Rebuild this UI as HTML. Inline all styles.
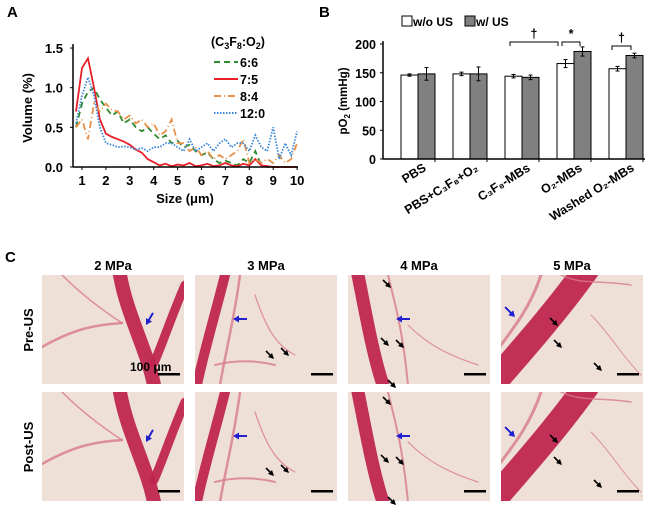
<!DOCTYPE html>
<html><head><meta charset="utf-8">
<style>
body{margin:0;background:#fff;}
#root{position:relative;width:652px;height:506px;overflow:hidden;font-family:"Liberation Sans",Arial,sans-serif;}
svg text{font-family:"Liberation Sans",Arial,sans-serif;font-weight:bold;}
</style></head>
<body><div id="root">
<svg id="main" width="652" height="506" xmlns="http://www.w3.org/2000/svg"></svg>
</div>
<script>
// ---------- Panel A data ----------
const sizeStart = 0.75, sizeStep = 0.25;
const s66  = [0.5,0.8,0.95,1.0,0.85,0.75,0.65,0.7,0.55,0.6,0.5,0.45,0.5,0.42,0.35,0.4,0.3,0.33,0.25,0.28,0.2,0.15,0.18,0.1,0.05,0.08,0.05,0.02,0.1,0.05,0.2,0.02,0.0,0.0,0.0,0.0,0.0,0.0];
const s75  = [0.7,1.25,1.37,1.0,0.6,0.42,0.38,0.35,0.32,0.28,0.22,0.18,0.1,0.06,0.02,0.04,0.01,0.03,0.02,0.05,0.01,0.02,0.04,0.01,0.02,0.05,0.02,0.01,0.04,0.02,0.1,0.02,0.01,0.0,0.0,0.0,0.0,0.0];
const s84  = [0.5,0.6,0.35,0.8,0.7,0.8,0.72,0.7,0.6,0.65,0.55,0.6,0.5,0.55,0.4,0.45,0.6,0.3,0.3,0.2,0.25,0.15,0.2,0.1,0.15,0.1,0.15,0.2,0.35,0.05,0.1,0.05,0.1,0.05,0.15,0.05,0.1,0.3];
const s120 = [0.55,0.9,1.13,0.9,0.5,0.3,0.28,0.25,0.26,0.25,0.22,0.24,0.2,0.25,0.25,0.3,0.3,0.25,0.2,0.35,0.2,0.25,0.3,0.2,0.3,0.35,0.25,0.3,0.3,0.2,0.4,0.25,0.2,0.5,0.1,0.3,0.15,0.45];
const aYTicks = [0,0.5,1.0,1.5];
const aYLabels = ["0.0","0.5","1.0","1.5"];
const aXTicks = [1,2,3,4,5,6,7,8,9,10];
// ---------- Panel B data ----------
const bCats = ["PBS","PBS+C₃F₈+O₂","C₃F₈-MBs","O₂-MBs","Washed O₂-MBs"];
const bNoUS = [146,148,144,166,157];
const bUS   = [148,148,142,187,180];
const bErrNoUS = [2,3,3,7,4];
const bErrUS   = [11,12,4,8,4];
const bYTicks = [0,50,100,150,200];

const NS="http://www.w3.org/2000/svg";
const svg=document.getElementById('main');
function mk(tag,attrs,parent){const e=document.createElementNS(NS,tag);for(const k in attrs)e.setAttribute(k,attrs[k]);(parent||svg).appendChild(e);return e;}
function txt(x,y,s,attrs,parent){const t=mk('text',Object.assign({x:x,y:y},attrs||{}),parent);t.textContent=s;return t;}

// ---- Panel A ----
const ax=v=>82+(v-1)*23.9, ay=v=>167-v*79.3;
const gA=mk('g',{});


const la=txt(7,17,'A',{'font-size':15},gA);

const series=[[s66,'#2e8b2e','6 4'],[s75,'#e8202a',''],[s84,'#e8904a','7 3 1 3'],[s120,'#3a86d8','1.5 1.5']];
series.forEach((sr,si)=>{
  let d='';sr[0].forEach((v,i)=>{d+=(i?'L':'M')+ax(sizeStart+i*sizeStep).toFixed(1)+','+ay(v).toFixed(1);});
  const p=mk('path',{d:d,fill:'none',stroke:sr[1],'stroke-width':1.8,'stroke-dasharray':sr[2]},gA);
  
  
});
mk('line',{x1:73,y1:ay(1.55),x2:73,y2:167,stroke:'#000','stroke-width':1.5},gA);
mk('line',{x1:73,y1:167,x2:298,y2:167,stroke:'#000','stroke-width':1.5},gA);
aYTicks.forEach((v,i)=>{mk('line',{x1:70,y1:ay(v),x2:73,y2:ay(v),stroke:'#000'},gA);
  const t=txt(63,ay(v)+5,aYLabels[i],{'font-size':13,'text-anchor':'end'},gA);
  });
aXTicks.forEach(v=>{mk('line',{x1:ax(v),y1:167,x2:ax(v),y2:170,stroke:'#000'},gA);
  const t=txt(ax(v),185,String(v),{'font-size':13,'text-anchor':'middle'},gA);
  });
const xt=txt(185,203,'Size (μm)',{'font-size':13,'text-anchor':'middle'},gA);

const yt=txt(0,0,'Volume (%)',{'font-size':13,'text-anchor':'middle',transform:'translate(32,108) rotate(-90)'},gA);

const lg=txt(211,46,'',{'font-size':12.5},gA);
lg.innerHTML='(C<tspan font-size="9" dy="3">3</tspan><tspan dy="-3">F</tspan><tspan font-size="9" dy="3">8</tspan><tspan dy="-3">:O</tspan><tspan font-size="9" dy="3">2</tspan><tspan dy="-3">)</tspan>';

['6:6','7:5','8:4','12:0'].forEach((n,i)=>{const y=62+i*17;
  mk('line',{x1:214,y1:y,x2:238,y2:y,stroke:series[i][1],'stroke-width':2,'stroke-dasharray':series[i][2]},gA);
  const t=txt(240,y+5,n,{'font-size':12.5},gA);
  });

// ---- Panel B ----
const by=v=>159-v*0.575;
const gB=mk('g',{});


const lb=txt(319,17,'B',{'font-size':15},gB);

mk('rect',{x:402,y:16,width:10,height:10,fill:'#fff',stroke:'#000'},gB);
const l1=txt(413,26,'w/o US',{'font-size':12},gB);

mk('rect',{x:465,y:16,width:10,height:10,fill:'#808080',stroke:'#000'},gB);
const l2=txt(476,26,'w/ US',{'font-size':12},gB);

bYTicks.forEach(v=>{mk('line',{x1:380,y1:by(v),x2:383,y2:by(v),stroke:'#000'},gB);
  const t=txt(376,by(v)+5,String(v),{'font-size':12.5,'text-anchor':'end'},gB);
  });
const byt=txt(0,0,'',{'font-size':11.5,'text-anchor':'middle',transform:'translate(347,101) rotate(-90)'},gB);
byt.innerHTML='pO<tspan font-size="8" dy="3">2</tspan><tspan dy="-3"> (mmHg)</tspan>';

bCats.forEach((c,i)=>{
  const x0=401+i*52;
  const r1=mk('rect',{x:x0,y:by(bNoUS[i]),width:17,height:159-by(bNoUS[i]),fill:'#fff',stroke:'#000','stroke-width':1},gB);
  
  const r2=mk('rect',{x:x0+17,y:by(bUS[i]),width:17,height:159-by(bUS[i]),fill:'#808080',stroke:'#000','stroke-width':1},gB);
  
  [[x0+8.5,bNoUS[i],bErrNoUS[i]],[x0+25.5,bUS[i],bErrUS[i]]].forEach(e=>{
    mk('line',{x1:e[0],y1:by(e[1]+e[2]),x2:e[0],y2:by(e[1]-e[2]),stroke:'#000'},gB);
    mk('line',{x1:e[0]-2,y1:by(e[1]+e[2]),x2:e[0]+2,y2:by(e[1]+e[2]),stroke:'#000'},gB);
    mk('line',{x1:e[0]-2,y1:by(e[1]-e[2]),x2:e[0]+2,y2:by(e[1]-e[2]),stroke:'#000'},gB);});
  mk('line',{x1:383+i*52+52,y1:159,x2:383+i*52+52,y2:162,stroke:'#000'},gB);
  const t=txt(0,0,c,{'font-size':12.5,'text-anchor':'end',transform:'translate('+(x0+26)+',170) rotate(-32)'},gB);
  
});
mk('line',{x1:383,y1:by(205),x2:383,y2:159,stroke:'#000','stroke-width':1.5},gB);
mk('line',{x1:383,y1:159,x2:645,y2:159,stroke:'#000','stroke-width':1.5},gB);
function bracket(x1,x2,y,sym){mk('path',{d:'M'+x1+','+(y+4)+'V'+y+'H'+x2+'V'+(y+4),fill:'none',stroke:'#000'},gB);
  const t=txt((x1+x2)/2,y-4,sym,{'font-size':12.5,'text-anchor':'middle'},gB);
  }
bracket(510,558,42,'†');bracket(562,580,42,'*');bracket(612,631,46,'†');

// ---- Panel C ----
const lc=txt(5,262,'C',{'font-size':15});

const cols=[42,195,348,501],rows=[275,392],pw=142,ph=109;
['2 MPa','3 MPa','4 MPa','5 MPa'].forEach((s,i)=>{const t=txt(cols[i]+71,270,s,{'font-size':13,'text-anchor':'middle'});
  });
['Pre-US','Post-US'].forEach((s,i)=>{const t=txt(0,0,s,{'font-size':13,'text-anchor':'middle',transform:'translate(33,'+(rows[i]+55)+') rotate(-90)'});
  });
const vessels=[
 [['M78,0 C85,40 105,75 112,110',14],['M143,10 C130,40 120,70 112,88',9],['M80,48 C50,50 30,55 0,72',2.5],['M20,0 C40,20 60,35 80,48',1.5]],
 [['M30,0 C20,40 8,80 2,110',10],['M45,0 C40,40 30,80 25,110',2.5],['M20,90 C40,85 60,85 80,90',2],['M60,20 C70,50 80,70 100,80',1.2]],
 [['M10,0 C18,40 25,80 35,110',13],['M40,0 C50,40 55,60 60,110',2],['M60,50 C80,70 100,80 130,90',1.2]],
 [['M85,-5 C60,30 30,65 -5,105',26],['M40,0 C30,30 15,50 0,70',3],['M60,0 C80,10 100,5 130,10',1.5],['M90,40 C110,60 120,80 140,100',1]]
];
// [headX, headY, tail direction angle in degrees]
const blue=[[104,50,-60],[38,44,0],[48,44,0],[14,42,-135]];
const blk=[[],[[78,83],[93,80]],[[42,12],[40,70],[55,72],[47,112]],[[56,50],[60,72],[100,95]]];
for(let r=0;r<2;r++)for(let c=0;c<4;c++){
  const g=mk('g',{transform:'translate('+cols[c]+','+rows[r]+')'});
  
  mk('rect',{x:0,y:0,width:pw,height:ph,fill:'#eee0d6'},g);
  const cp='clip'+r+c;const cl=mk('clipPath',{id:cp},g);mk('rect',{width:pw,height:ph},cl);
  const vg=mk('g',{'clip-path':'url(#'+cp+')'},g);
  vessels[c].forEach(v=>mk('path',{d:v[0],fill:'none',stroke:v[1]>5?'#bf2550':'#d87a8a','stroke-width':v[1],'stroke-linecap':'round',opacity:v[1]>5?0.95:0.8},vg));
  {const b=blue[c];const a=mk('g',{transform:'translate('+b[0]+','+(b[1]+(r&&c==3?3:0))+') rotate('+b[2]+')'},g);
    mk('line',{x1:2,y1:0,x2:14,y2:0,stroke:'#2020d0','stroke-width':2},a);mk('path',{d:'M0,0 L6,-3.5 L6,3.5Z',fill:'#2020d0'},a);
    }
  blk[c].forEach(b=>{const a=mk('g',{transform:'translate('+b[0]+','+b[1]+')'},g);
    mk('line',{x1:-7,y1:-7,x2:0,y2:0,stroke:'#000','stroke-width':1.6},a);mk('path',{d:'M1,1 L-5,-1 L-1,-5Z',fill:'#000'},a);
    });
  const sb=mk('rect',{x:pw-26,y:ph-11,width:22,height:2.5,fill:'#000'},g);
  
  if(r==0&&c==0){const t=txt(pw-54,ph-13,'100 μm',{'font-size':12},g);
    }
}
</script>
</body></html>
